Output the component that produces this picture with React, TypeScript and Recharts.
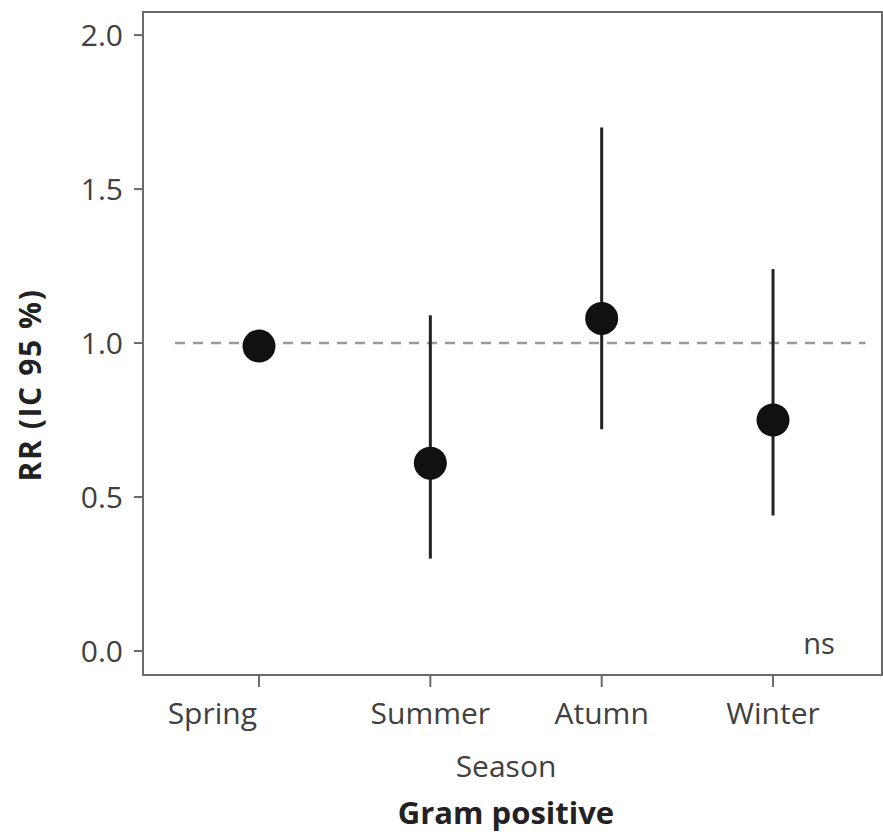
import { ScatterChart, Scatter, XAxis, YAxis, ErrorBar, ReferenceLine, ReferenceArea } from "recharts";

const seasons = ["Spring", "Summer", "Atumn", "Winter"];
const rr = [0.99, 0.61, 1.08, 0.75];
const ciLow = [0.99, 0.3, 0.72, 0.44];
const ciHigh = [0.99, 1.09, 1.7, 1.24];
const yTicks = [0, 0.5, 1.0, 1.5, 2.0];
const xTicks = [1, 2, 3, 4];

const xDomain = [0.323, 4.636];
const yDomain = [-0.078, 2.075];
const refSegment = [
    { x: 0.51, y: 1 },
    { x: 4.54, y: 1 },
];

const data = seasons.map((s, i) => ({
    x: i + 1,
    season: s,
    rr: rr[i],
    err: [rr[i] - ciLow[i], ciHigh[i] - rr[i]],
}));

const font = "'Open Sans', sans-serif";
const axisGrey = "#6b6b6b";
const tickStyle = { fill: "#404040", fontSize: 30, fontFamily: font };

const Dot = (props: any) => <circle cx={props.cx} cy={props.cy} r={16.5} fill="#111" />;

// first label sits left of its tick in the original, the rest are centred
const SeasonTick = (props: any) => {
    const { x, y, payload } = props;
    const first = payload.value === 1;
    return (
        <text
            x={first ? x - 2 : x}
            y={y}
            dy="0.71em"
            textAnchor={first ? "end" : "middle"}
            {...tickStyle}
        >
            {seasons[payload.value - 1]}
        </text>
    );
};

export default function App() {
    return (
        <div style={{ position: "absolute", left: 0, top: 0, width: 883, height: 832, background: "#fff" }}>
            <ScatterChart width={883} height={832} margin={{ top: 12, right: 1, bottom: 87, left: 0 }}>
                <ReferenceArea
                    x1={xDomain[0]}
                    x2={xDomain[1]}
                    y1={yDomain[0]}
                    y2={yDomain[1]}
                    fill="none"
                    stroke={axisGrey}
                    strokeWidth={2}
                    fillOpacity={0}
                />
                <XAxis
                    type="number"
                    dataKey="x"
                    domain={xDomain}
                    allowDataOverflow
                    ticks={xTicks}
                    height={70}
                    tickSize={12}
                    tickMargin={16}
                    tick={<SeasonTick />}
                    axisLine={{ stroke: axisGrey, strokeWidth: 2 }}
                    tickLine={{ stroke: axisGrey, strokeWidth: 2 }}
                />
                <YAxis
                    type="number"
                    dataKey="rr"
                    domain={yDomain}
                    allowDataOverflow
                    ticks={yTicks}
                    tickFormatter={(v: number) => v.toFixed(1)}
                    width={143}
                    tickSize={9}
                    tickMargin={11}
                    tick={tickStyle}
                    axisLine={{ stroke: axisGrey, strokeWidth: 2 }}
                    tickLine={{ stroke: axisGrey, strokeWidth: 2 }}
                />
                <ReferenceLine
                    segment={refSegment}
                    stroke="#9a9a9a"
                    strokeWidth={2.5}
                    strokeDasharray="10 8"
                />
                <Scatter data={data} dataKey="rr" shape={Dot} isAnimationActive={false}>
                    <ErrorBar dataKey="err" direction="y" width={0} stroke="#222" strokeWidth={3} />
                </Scatter>
                <text x={819} y={654} textAnchor="middle" fontSize={29} fontFamily={font} fill="#404040">
                    ns
                </text>
                <text x={506} y={777} textAnchor="middle" fontSize={30} fontFamily={font} fill="#404040">
                    Season
                </text>
                <text x={506} y={824} textAnchor="middle" fontSize={31} fontWeight="bold" fontFamily={font} fill="#222">
                    Gram positive
                </text>
                <text
                    x={41}
                    y={385}
                    transform="rotate(-90 41 385)"
                    textAnchor="middle"
                    fontSize={30}
                    fontWeight="bold"
                    letterSpacing={1.6}
                    fontFamily={font}
                    fill="#222"
                >
                    RR (IC 95 %)
                </text>
            </ScatterChart>
        </div>
    );
}
